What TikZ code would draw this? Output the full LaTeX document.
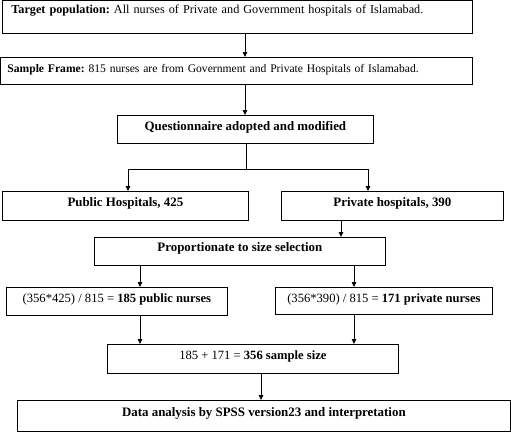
\documentclass[tikz,border=0pt]{standalone}
\usepackage{fontspec}
\setmainfont{Liberation Serif}
\usetikzlibrary{arrows.meta}
\frenchspacing
\begin{document}
\begin{tikzpicture}[x=1pt,y=-1pt,
 box/.style={draw, line width=0.8pt, inner ysep=0pt, inner xsep=0pt, anchor=north west,
   minimum height=0pt, font=\fontsize{12.6}{14}\selectfont},
 wbox/.style={box, font=\fontsize{12.2}{14}\selectfont, align=left},
 bbox/.style={box, font=\fontsize{12.9}{14}\selectfont\bfseries},
 arr/.style={-{Triangle[length=5pt,width=4.5pt]}, line width=0.8pt},
 ln/.style={line width=0.8pt}]
\useasboundingbox (0,0) rectangle (511,432);
\node[wbox, inner xsep=9pt, text width=452pt, text height=13.5pt, text depth=19.5pt] (b1) at (2,0)
  {\textbf{Target population:} All nurses of Private and Government hospitals of Islamabad.};
\node[wbox, inner xsep=7pt, text width=458pt, text height=15pt, text depth=12pt, font=\fontsize{11.6}{14}\selectfont] (b2) at (0,57)
  {\textbf{Sample Frame:} 815 nurses are from Government and Private Hospitals of Islamabad.};
\node[bbox, minimum width=256pt, text height=15pt, text depth=13pt] (b3) at (117,115)
  {Questionnaire adopted and modified};
\node[bbox, minimum width=246pt, text height=15pt, text depth=14pt] (b4) at (2,191)
  {Public Hospitals, 425};
\node[bbox, minimum width=222pt, text height=15pt, text depth=14pt] (b5) at (281,191)
  {Private hospitals, 390};
\node[bbox, minimum width=291pt, text height=14pt, text depth=14pt] (b6) at (94,237)
  {Proportionate to size selection};
\node[box, minimum width=221pt, text height=14.7pt, text depth=13.3pt] (b7) at (6,287)
  {(356*425) / 815 = \textbf{185 public nurses}};
\node[box, minimum width=217pt, text height=14.7pt, text depth=12.3pt] (b8) at (275,287)
  {(356*390) / 815 = \textbf{171 private nurses}};
\node[box, minimum width=291pt, text height=15pt, text depth=14pt] (b9) at (107,344)
  {185 + 171 = \textbf{356 sample size}};
\node[bbox, minimum width=493pt, text height=16pt, text depth=15pt] (b10) at (17,400)
  {Data analysis by SPSS version23 and interpretation};

\draw[arr] (245,0 |- b1.south) -- (245,0 |- b2.north);
\draw[arr] (245,0 |- b2.south) -- (245,0 |- b3.north);
\coordinate (split) at (246,169);
\draw[ln] (246,0 |- b3.south) -- (split);
\draw[arr] (split) -| (128,0 |- b4.north);
\draw[arr] (split) -| (368,0 |- b5.north);
\draw[arr] (341,0 |- b5.south) -- (341,0 |- b6.north);
\draw[arr] (140,0 |- b6.south) -- (140,0 |- b7.north);
\draw[arr] (354,0 |- b6.south) -- (354,0 |- b8.north);
\draw[arr] (140,0 |- b7.south) -- (140,0 |- b9.north);
\draw[arr] (354,0 |- b8.south) -- (354,0 |- b9.north);
\draw[arr] (261,0 |- b9.south) -- (261,0 |- b10.north);
\end{tikzpicture}
\end{document}
